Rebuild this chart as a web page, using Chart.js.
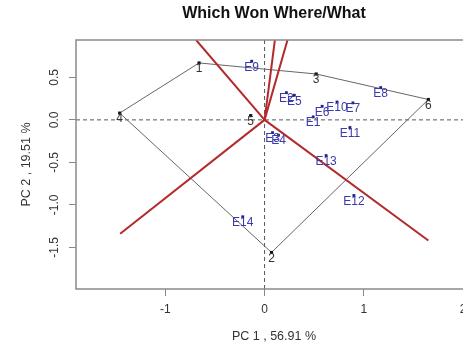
<!DOCTYPE html>
<html>
<head>
<meta charset="utf-8">
<script src="https://cdn.jsdelivr.net/npm/chart.js@4/dist/chart.umd.min.js"></script>
<style>
  html, body { margin: 0; padding: 0; background: #fff; overflow: hidden; }
  #wrap { width: 463px; height: 345px; overflow: hidden; position: relative; }
  #c { display: block; }
</style>
</head>
<body>
<div id="wrap"><canvas id="c" width="480" height="345"></canvas></div>
<script>
// Genotype scores on the first two principal components
const genotypes = ['1', '2', '3', '4', '5', '6'];
const genoPC1 = [-0.66, 0.07, 0.52, -1.46, -0.14, 1.65];
const genoPC2 = [0.67, -1.56, 0.54, 0.08, 0.05, 0.24];

// Environment scores
const environments = ['E1', 'E2', 'E3', 'E4', 'E5', 'E6', 'E7', 'E8', 'E9', 'E10', 'E11', 'E12', 'E13', 'E14'];
const envPC1 = [0.49, 0.22, 0.08, 0.14, 0.30, 0.58, 0.89, 1.17, -0.13, 0.73, 0.86, 0.90, 0.62, -0.22];
const envPC2 = [0.035, 0.32, -0.15, -0.18, 0.29, 0.16, 0.20, 0.38, 0.69, 0.21, -0.09, -0.89, -0.42, -1.14];

// Polygon vertices (convex hull of genotypes), in drawing order
const hullOrder = ['1', '3', '6', '2', '4', '1'];

// Sector boundary rays from the origin, perpendicular to each polygon side
const rayEndPC1 = [-0.69, 0.104, 0.231, 1.65, -1.455];
const rayEndPC2 = [0.94, 0.94, 0.94, -1.42, -1.34];

// Axis ticks and extents
const xTicks = [-1, 0, 1, 2];
const yTicks = [-1.5, -1.0, -0.5, 0.0, 0.5];
const xRange = [-1.9, 2.09];
const yRange = [-1.99, 0.94];

const FONT = "'Liberation Sans', Arial, sans-serif";

const hullData = hullOrder.map(g => {
  const i = genotypes.indexOf(g);
  return { x: genoPC1[i], y: genoPC2[i] };
});

const rayDatasets = rayEndPC1.map((ex, i) => ({
  type: 'line',
  data: [{ x: 0, y: 0 }, { x: ex, y: rayEndPC2[i] }],
  borderColor: '#b22a2a',
  borderWidth: 2,
  pointRadius: 0,
  fill: false,
  tension: 0,
  order: 2
}));

// Dashed reference lines through the origin
const zeroLines = [
  [{ x: xRange[0], y: 0 }, { x: xRange[1], y: 0 }],
  [{ x: 0, y: yRange[0] }, { x: 0, y: yRange[1] }]
].map(d => ({
  type: 'line',
  data: d,
  borderColor: '#555',
  borderWidth: 1,
  borderDash: [4, 3],
  pointRadius: 0,
  fill: false,
  order: 4
}));

const pointLabels = {
  id: 'pointLabels',
  afterDatasetsDraw(chart) {
    const ctx = chart.ctx;
    chart.data.datasets.forEach((ds, di) => {
      if (!ds.labels) return;
      const meta = chart.getDatasetMeta(di);
      ctx.save();
      ctx.font = ds.labelFont;
      ctx.fillStyle = ds.labelColor;
      ctx.textAlign = 'center';
      ctx.textBaseline = 'middle';
      meta.data.forEach((el, i) => {
        ctx.fillText(ds.labels[i], el.x, el.y + 6);
      });
      ctx.restore();
    });
  }
};

const plotFrame = {
  id: 'plotFrame',
  afterDraw(chart) {
    const { left, top, right, bottom } = chart.chartArea;
    const ctx = chart.ctx;
    ctx.save();
    ctx.strokeStyle = '#8a8a8a';
    ctx.lineWidth = 1.5;
    ctx.strokeRect(left, top, right - left, bottom - top);
    ctx.restore();
  }
};

new Chart(document.getElementById('c'), {
  type: 'scatter',
  data: {
    datasets: [
      {
        type: 'scatter',
        data: genoPC1.map((x, i) => ({ x, y: genoPC2[i] })),
        labels: genotypes,
        labelFont: `12px ${FONT}`,
        labelColor: '#333',
        pointStyle: 'rect',
        pointRadius: 2.2,
        backgroundColor: '#111',
        borderColor: '#111',
        borderWidth: 0,
        order: 0
      },
      {
        type: 'scatter',
        data: envPC1.map((x, i) => ({ x, y: envPC2[i] })),
        labels: environments,
        labelFont: `12px ${FONT}`,
        labelColor: '#3a3aaa',
        pointStyle: 'rect',
        pointRadius: 2,
        backgroundColor: '#1e1e8c',
        borderColor: '#1e1e8c',
        borderWidth: 0,
        order: 1
      },
      ...rayDatasets,
      {
        type: 'line',
        data: hullData,
        borderColor: '#666',
        borderWidth: 1,
        pointRadius: 0,
        fill: false,
        tension: 0,
        order: 3
      },
      ...zeroLines
    ]
  },
  options: {
    responsive: false,
    animation: false,
    devicePixelRatio: 1,
    layout: { padding: { left: 0, right: 8, top: 0, bottom: 0 } },
    plugins: {
      legend: { display: false },
      tooltip: { enabled: false },
      title: {
        display: true,
        fullSize: false,
        text: 'Which Won Where/What',
        color: '#111',
        font: { family: FONT, size: 16, weight: 'bold', lineHeight: 1.2 },
        padding: { top: 3.5, bottom: 17.3 }
      }
    },
    scales: {
      x: {
        type: 'linear',
        position: 'bottom',
        min: xRange[0],
        max: xRange[1],
        afterBuildTicks: s => { s.ticks = xTicks.map(v => ({ value: v })); },
        afterFit: s => { s.height = 56; },
        ticks: {
          color: '#333',
          font: { family: FONT, size: 12 },
          padding: 6,
          maxRotation: 0,
          callback: v => String(v)
        },
        grid: { display: true, drawOnChartArea: false, drawTicks: true, tickLength: 7, tickColor: '#888', tickWidth: 1 },
        border: { display: false },
        title: {
          display: true,
          text: 'PC 1 , 56.91 %',
          color: '#333',
          font: { family: FONT, size: 12.5, lineHeight: 1.2 },
          padding: { top: 0, bottom: 0.5 }
        }
      },
      y: {
        type: 'linear',
        position: 'left',
        min: yRange[0],
        max: yRange[1],
        afterBuildTicks: s => { s.ticks = yTicks.map(v => ({ value: v })); },
        afterFit: s => { s.width = 76; },
        ticks: {
          color: '#333',
          font: { family: FONT, size: 12 },
          padding: 4,
          minRotation: 90,
          maxRotation: 90,
          crossAlign: 'center',
          callback: v => v.toFixed(1)
        },
        grid: { display: true, drawOnChartArea: false, drawTicks: true, tickLength: 7, tickColor: '#888', tickWidth: 1 },
        border: { display: false },
        title: {
          display: true,
          text: 'PC 2 , 19.51 %',
          color: '#333',
          font: { family: FONT, size: 12.5, lineHeight: 1.2 },
          padding: { top: 19.5, bottom: 0 }
        }
      }
    }
  },
  plugins: [pointLabels, plotFrame]
});
</script>
</body>
</html>
